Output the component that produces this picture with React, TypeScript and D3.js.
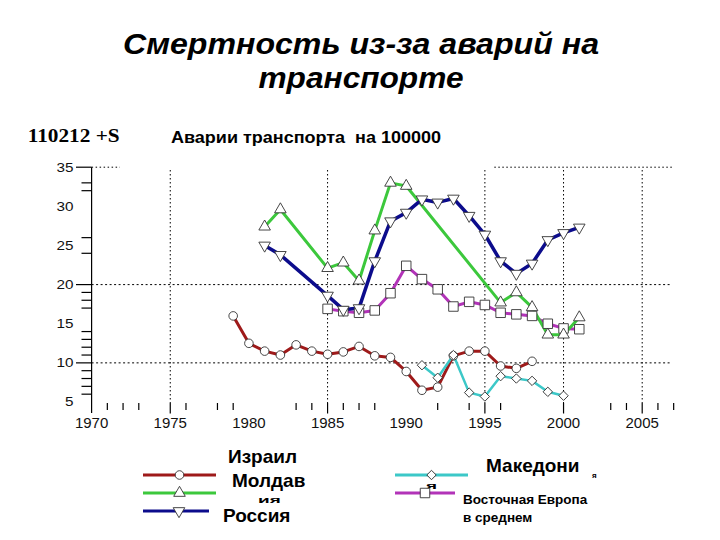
import React from "react";
import * as d3 from "d3";

const israelYears = [1979, 1980, 1981, 1982, 1983, 1984, 1985, 1986, 1987, 1988, 1989, 1990, 1991, 1992, 1993, 1994, 1995, 1996, 1997, 1998];
const israelValues = [16.0, 12.5, 11.5, 11.0, 12.3, 11.5, 11.1, 11.4, 12.1, 10.9, 10.7, 8.9, 6.5, 6.9, 10.9, 11.5, 11.5, 9.6, 9.3, 10.2];

const macedoniaYears = [1991, 1992, 1993, 1994, 1995, 1996, 1997, 1998, 1999, 2000];
const macedoniaValues = [9.7, 8.1, 11.0, 6.2, 5.7, 8.3, 8.0, 7.7, 6.3, 5.8];

const moldovaYears = [1981, 1982, 1985, 1986, 1987, 1988, 1989, 1990, 1996, 1997, 1998, 1999, 2000, 2001];
const moldovaValues = [27.4, 29.6, 22.1, 22.8, 20.5, 26.9, 33.0, 32.6, 17.7, 19.0, 17.1, 13.6, 13.6, 15.8];

const russiaYears = [1981, 1982, 1985, 1986, 1987, 1988, 1989, 1990, 1991, 1992, 1993, 1994, 1995, 1996, 1997, 1998, 1999, 2000, 2001];
const russiaValues = [25.0, 23.8, 18.6, 16.8, 17.0, 23.0, 28.1, 29.2, 30.9, 30.5, 31.0, 28.8, 26.4, 23.0, 21.4, 22.7, 25.7, 26.6, 27.3];

const eastEuropeYears = [1985, 1986, 1987, 1988, 1989, 1990, 1991, 1992, 1993, 1994, 1995, 1996, 1997, 1998, 1999, 2000, 2001];
const eastEuropeValues = [16.9, 16.6, 16.4, 16.7, 18.9, 22.4, 20.7, 19.4, 17.2, 17.8, 17.4, 16.4, 16.2, 16.0, 15.0, 14.4, 14.3];

const yLabelValues = [35, 30, 25, 20, 15, 10, 5];
const yMajorTicks = [35, 20, 10];
const yMinorTicks = [33, 32, 26, 24, 19, 18, 17, 14, 13, 12, 11, 9, 8, 7, 6];
const xLabelValues = [1970, 1975, 1980, 1985, 1990, 1995, 2000, 2005];
const xMajorTicks = [1975, 1985, 1995, 2000, 2005];
const xMinorTicks = [1971, 1972, 1973, 1976, 1978, 1979, 1983, 1984, 1986, 1987, 1988, 1992, 1994, 1996, 2003, 2004, 2006, 2007];
const xGrid = [1975, 1985, 1995, 2000, 2005];
const yGrid = [20, 10];

const titleLines = ["Смертность из-за аварий на", "транспорте"];
const subtitle = "Аварии транспорта  на 100000";
const code = "110212 +S";

type Shape = "circle" | "up" | "down" | "diamond" | "square";
interface Series { name: string; years: number[]; values: number[]; color: string; width: number; shape: Shape; }

const series: Series[] = [
  { name: "Израиль", years: israelYears, values: israelValues, color: "#9e1a1a", width: 3, shape: "circle" },
  { name: "Македония", years: macedoniaYears, values: macedoniaValues, color: "#3cc8c8", width: 2.5, shape: "diamond" },
  { name: "Восточная Европа", years: eastEuropeYears, values: eastEuropeValues, color: "#b233b8", width: 3, shape: "square" },
  { name: "Молдавия", years: moldovaYears, values: moldovaValues, color: "#3cc83c", width: 3, shape: "up" },
  { name: "Россия", years: russiaYears, values: russiaValues, color: "#0c0c8c", width: 3.5, shape: "down" },
];

const x = d3.scaleLinear().domain([1970, 2005]).range([91.6, 642.2]);
const y = d3.scaleLinear().domain([5, 35]).range([402, 167.2]);

function symbolPath(shape: Shape): { d: string; rot: number } {
  switch (shape) {
    case "circle": return { d: d3.symbol().type(d3.symbolCircle).size(58)() as string, rot: 0 };
    case "up": return { d: d3.symbol().type(d3.symbolTriangle).size(58)() as string, rot: 0 };
    case "down": return { d: d3.symbol().type(d3.symbolTriangle).size(58)() as string, rot: 180 };
    case "diamond": return { d: d3.symbol().type(d3.symbolSquare).size(44)() as string, rot: 45 };
    case "square": return { d: d3.symbol().type(d3.symbolSquare).size(90)() as string, rot: 0 };
  }
}

function Marker({ shape, cx, cy }: { shape: Shape; cx: number; cy: number }) {
  const s = symbolPath(shape);
  return <path d={s.d} transform={`translate(${cx},${cy}) rotate(${s.rot})`} fill="#fff" stroke="#333" strokeWidth={0.9} />;
}

export default function App() {
  const line = d3.line<[number, number]>().x((d) => x(d[0])).y((d) => y(d[1]));
  const sans = "'Liberation Sans', Arial, sans-serif";
  const legendRows = [
    { s: series[0], x1: 143, x2: 216, ly: 475 },
    { s: series[3], x1: 143, x2: 216, ly: 493 },
    { s: series[4], x1: 143, x2: 209, ly: 511 },
    { s: series[1], x1: 395, x2: 468, ly: 475 },
    { s: series[2], x1: 395, x2: 455, ly: 493 },
  ];
  const titleLengths = [476, 205];
  return (
    <svg width={720} height={540} style={{ position: "absolute", left: 0, top: 0, background: "#fff" }} fontFamily={sans}>
      <rect x={0} y={0} width={720} height={540} fill="#fff" />
      {/* Title */}
      {titleLines.map((t, i) => (
        <text key={i} x={361} y={54 + i * 34} textAnchor="middle" fontSize={30} fontWeight="bold" fontStyle="italic" textLength={titleLengths[i]} lengthAdjust="spacingAndGlyphs">{t}</text>
      ))}
      <text x={27.7} y={141.7} fontFamily="'Liberation Serif', 'Times New Roman', serif" fontWeight="bold" fontSize={18} textLength={92} lengthAdjust="spacingAndGlyphs">{code}</text>
      <text x={171} y={143} fontSize={16} fontWeight="bold" textLength={270} lengthAdjust="spacingAndGlyphs" style={{ whiteSpace: "pre" }}>{subtitle}</text>

      {/* Grid */}
      {xGrid.map((v) => (
        <line key={"xg" + v} x1={x(v)} x2={x(v)} y1={170} y2={403} stroke="#000" strokeWidth={1} strokeDasharray="1.5,2.5" />
      ))}
      {yGrid.map((v) => (
        <line key={"yg" + v} x1={x(1970)} x2={672} y1={y(v)} y2={y(v)} stroke="#000" strokeWidth={1} strokeDasharray="2,2.5" />
      ))}
      <line x1={x(1970)} x2={x(1971.8)} y1={y(35)} y2={y(35)} stroke="#000" strokeWidth={1} strokeDasharray="1.5,2.5" />
      <line x1={x(1995.6)} x2={672} y1={y(35)} y2={y(35)} stroke="#000" strokeWidth={1} strokeDasharray="1.5,2.5" />

      {/* Y axis */}
      <line x1={x(1970)} x2={x(1970)} y1={y(35)} y2={413} stroke="#000" strokeWidth={1.2} />
      {yMajorTicks.map((v) => (
        <line key={"ym" + v} x1={76} x2={x(1970)} y1={y(v)} y2={y(v)} stroke="#000" strokeWidth={1.2} />
      ))}
      {yMinorTicks.map((v) => (
        <line key={"yn" + v} x1={81.5} x2={x(1970)} y1={y(v)} y2={y(v)} stroke="#000" strokeWidth={1.2} />
      ))}
      {yLabelValues.map((v) => (
        <text key={"yl" + v} x={73.5} y={y(v)} dy="0.36em" textAnchor="end" fontSize={12} textLength={String(v).length * 8.5} lengthAdjust="spacingAndGlyphs" fill="#111">{v}</text>
      ))}

      {/* X axis ticks */}
      {xMajorTicks.map((v) => (
        <line key={"xm" + v} x1={x(v)} x2={x(v)} y1={403} y2={413.5} stroke="#000" strokeWidth={1.2} />
      ))}
      {xMinorTicks.map((v) => (
        <line key={"xn" + v} x1={x(v)} x2={x(v)} y1={403} y2={410} stroke="#000" strokeWidth={1.2} />
      ))}
      {xLabelValues.map((v) => (
        <text key={"xl" + v} x={x(v)} y={428} textAnchor="middle" fontSize={15} fill="#111">{v}</text>
      ))}

      {/* Series lines */}
      {series.map((s) => (
        <path key={"l" + s.name} d={line(s.years.map((yr, i) => [yr, s.values[i]] as [number, number])) as string} fill="none" stroke={s.color} strokeWidth={s.width} strokeLinejoin="round" />
      ))}
      {series.map((s) => (
        <g key={"m" + s.name}>
          {s.years.map((yr, i) => <Marker key={yr} shape={s.shape} cx={x(yr)} cy={y(s.values[i])} />)}
        </g>
      ))}

      {/* Legend */}
      <text x={426} y={489} fontSize={19} fontWeight="bold" transform="translate(426,489) scale(1,0.45) translate(-426,-489)">я</text>
      {legendRows.map((r, i) => (
        <g key={"lg" + i}>
          <line x1={r.x1} x2={r.x2} y1={r.ly} y2={r.ly} stroke={r.s.color} strokeWidth={3} />
          <Marker shape={r.s.shape} cx={r.x1 + (r.x2 - r.x1) / 2 + (i === 2 ? 3 : 0)} cy={r.ly} />
        </g>
      ))}
      <text x={228} y={463} fontSize={19} fontWeight="bold">Израил</text>
      <text x={232} y={487} fontSize={19} fontWeight="bold">Молдав</text>
      <text x={258} y={503} fontSize={19} fontWeight="bold" transform="translate(258,503) scale(1,0.45) translate(-258,-503)">ия</text>
      <text x={223} y={522} fontSize={19} fontWeight="bold">Россия</text>
      <text x={486} y={472} fontSize={19} fontWeight="bold">Македони</text>
      <text x={592} y={478} fontSize={8} fontWeight="bold">я</text>
      <text x={463} y={503.5} fontSize={13.5} fontWeight="bold">Восточная Европа</text>
      <text x={463} y={522} fontSize={13.5} fontWeight="bold">в среднем</text>
    </svg>
  );
}
